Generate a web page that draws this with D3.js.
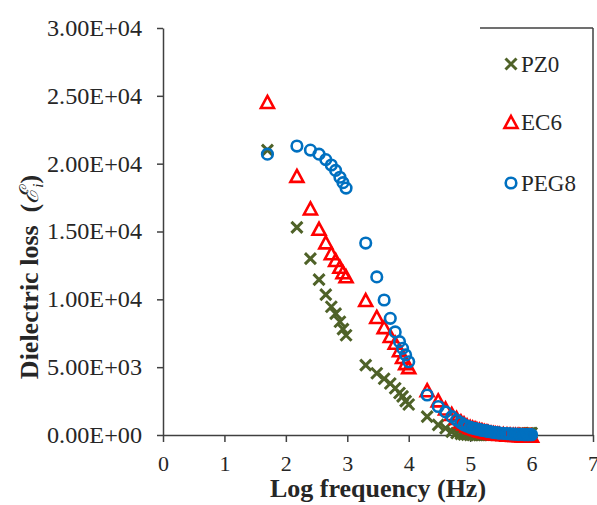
<!DOCTYPE html>
<html><head><meta charset="utf-8">
<script src="https://cdn.jsdelivr.net/npm/d3@7"></script>
<style>
html,body{margin:0;padding:0;background:#fff;}
svg{display:block;}
text{font-family:"Liberation Serif","Times New Roman",serif;fill:#262626;}
</style></head>
<body>
<svg id="chart" width="597" height="505"></svg>
<script>
// ---- data ----
const logFreq = [1.70, 2.18, 2.40, 2.54, 2.65, 2.74, 2.81, 2.88, 2.93, 2.98,
  3.30, 3.48, 3.60, 3.70, 3.78, 3.85, 3.90, 3.95, 4.00,
  4.30, 4.48, 4.60, 4.70, 4.78, 4.85, 4.90, 4.95,
  5.00, 5.04, 5.08, 5.11, 5.15, 5.18, 5.20, 5.23, 5.26, 5.28,
  5.30, 5.34, 5.38, 5.41, 5.45, 5.48, 5.54, 5.60, 5.65, 5.70, 5.74, 5.78, 5.81, 5.85, 5.88, 5.90, 5.93, 5.95, 5.98, 6.00];
const pz0 = [21000, 15300, 13000, 11450, 10350, 9450, 8950, 8350, 7800, 7350,
  5150, 4550, 4150, 3800, 3450, 3100, 2850, 2500, 2250,
  1350, 750, 500, 250, 150, 80, 40, 20,
  0, 0, 0, 10, 10, 10, 20, 20, 20, 20,
  20, 30, 30, 30, 40, 40, 50, 50, 60, 60, 70, 70, 80, 80, 90, 100, 110, 120, 130, 150];
const ec6 = [24550, 19100, 16700, 15200, 14200, 13400, 12900, 12400, 12000, 11700,
  9950, 8700, 7950, 7300, 6800, 6250, 5750, 5300, 5000,
  3300, 2550, 1950, 1550, 1250, 1000, 850, 700,
  600, 540, 480, 430, 380, 340, 310, 280, 250, 220,
  200, 160, 130, 110, 90, 70, 50, 30, 20, 10, 0, 0, -20, -30, -40, -50, -50, -60, -60, -60];
const peg8 = [20700, 21300, 21000, 20700, 20300, 19900, 19500, 19000, 18600, 18200,
  14150, 11650, 9950, 8600, 7600, 6880, 6390, 5900, 5400,
  2950, 2100, 1700, 1350, 1100, 900, 750, 650,
  560, 510, 470, 440, 400, 370, 350, 320, 300, 280,
  260, 230, 200, 180, 160, 140, 120, 100, 85, 70, 60, 50, 45, 40, 35, 30, 28, 25, 22, 20];
const seriesNames = ["PZ0", "EC6", "PEG8"];
const xTicks = [0, 1, 2, 3, 4, 5, 6, 7];
const yTicks = [0, 5000, 10000, 15000, 20000, 25000, 30000];
const yTickLabels = ["0.00E+00", "5.00E+03", "1.00E+04", "1.50E+04", "2.00E+04", "2.50E+04", "3.00E+04"];

// ---- layout ----
const svg = d3.select("#chart");
const x = d3.scaleLinear().domain([0, 7]).range([163, 593]);
const y = d3.scaleLinear().domain([0, 30000]).range([435, 28]);
const axisColor = "#404040";
const serif = "'Liberation Serif','Times New Roman',serif";

// frame lines (right edge and top segment)
svg.append("line").attr("x1", x(7)).attr("x2", x(7)).attr("y1", y(30000)).attr("y2", y(0))
  .attr("stroke", axisColor).attr("stroke-width", 1.5);
svg.append("line").attr("x1", 480).attr("x2", x(7)).attr("y1", y(30000)).attr("y2", y(30000))
  .attr("stroke", axisColor).attr("stroke-width", 1.5);

// y axis
const gy = svg.append("g").attr("transform", `translate(${x(0)},0)`)
  .call(d3.axisLeft(y).tickValues(yTicks).tickFormat((d, i) => yTickLabels[i])
    .tickSizeOuter(0).tickSizeInner(6).tickPadding(15));
gy.select(".domain").attr("stroke", axisColor).attr("stroke-width", 1.5);
gy.selectAll(".tick line").attr("stroke", axisColor).attr("stroke-width", 1.5);
gy.selectAll(".tick text").attr("font-size", 23).attr("fill", "#262626")
  .attr("textLength", 95).attr("lengthAdjust", "spacingAndGlyphs")
  .attr("font-family", serif);

// x axis
const gx = svg.append("g").attr("transform", `translate(0,${y(0)})`)
  .call(d3.axisBottom(x).tickValues(xTicks).tickFormat(d3.format("d"))
    .tickSizeOuter(0).tickSizeInner(7));
gx.select(".domain").attr("stroke", axisColor).attr("stroke-width", 1.5);
gx.selectAll(".tick line").attr("stroke", axisColor).attr("stroke-width", 1.5);
gx.selectAll(".tick text").attr("font-size", 22).attr("fill", "#262626")
  .attr("y", 36).attr("dy", 0)
  .attr("font-family", serif);

// axis titles
svg.append("text").attr("x", (x(0) + x(7)) / 2).attr("y", 497)
  .attr("text-anchor", "middle").attr("font-size", 26).attr("font-weight", "bold")
  .text("Log frequency (Hz)");
const yt = svg.append("text").attr("transform", "translate(38,277) rotate(-90)")
  .attr("text-anchor", "middle").attr("font-size", 26).attr("font-weight", "bold");
yt.append("tspan").text("Dielectric loss\u00a0\u00a0(");
yt.append("tspan").attr("font-weight", "normal").attr("font-style", "italic").text("\u2130");
yt.append("tspan").attr("font-size", 15).attr("font-weight", "normal").attr("font-style", "italic").attr("dy", 5).text("i");
yt.append("tspan").attr("dy", -5).text(")");

// marker painters
const colors = {PZ0: "#4f6228", EC6: "#ff0000", PEG8: "#0070c0"};
function drawX(g, cx, cy) {
  const s = 5.5;
  g.append("path").attr("d", `M${cx - s},${cy - s}L${cx + s},${cy + s}M${cx - s},${cy + s}L${cx + s},${cy - s}`)
    .attr("stroke", colors.PZ0).attr("stroke-width", 3).attr("fill", "none");
}
function drawTri(g, cx, cy) {
  const w = 6.5, h = 6;
  g.append("path").attr("d", `M${cx},${cy - h}L${cx + w},${cy + h}L${cx - w},${cy + h}Z`)
    .attr("stroke", colors.EC6).attr("stroke-width", 2.6).attr("fill", "none").attr("stroke-linejoin", "miter");
}
function drawCirc(g, cx, cy) {
  g.append("circle").attr("cx", cx).attr("cy", cy).attr("r", 5.3)
    .attr("stroke", colors.PEG8).attr("stroke-width", 2.6).attr("fill", "none");
}

const gPZ = svg.append("g");
logFreq.forEach((f, i) => drawX(gPZ, x(f), y(pz0[i])));
const gEC = svg.append("g");
logFreq.forEach((f, i) => drawTri(gEC, x(f), y(ec6[i])));
const gPE = svg.append("g");
logFreq.forEach((f, i) => drawCirc(gPE, x(f), y(peg8[i])));

// legend
const legendY = [64, 122, 183];
const painters = [drawX, drawTri, drawCirc];
const gl = svg.append("g");
seriesNames.forEach((name, i) => {
  painters[i](gl, 511, legendY[i]);
  gl.append("text").attr("x", 521).attr("y", legendY[i] + 8).attr("font-size", 23).text(name);
});
</script>
</body></html>
